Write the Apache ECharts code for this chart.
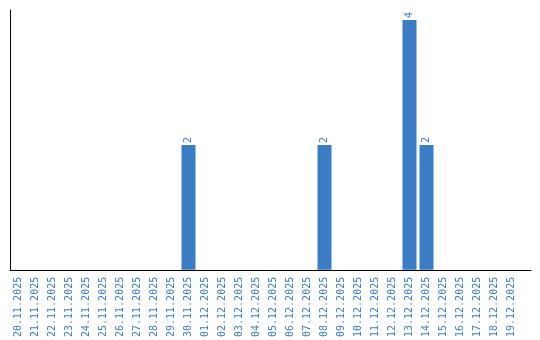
<!DOCTYPE html>
<html><head><meta charset="utf-8">
<script src="https://cdn.jsdelivr.net/npm/echarts@6/dist/echarts.min.js"></script>
<style>html,body{margin:0;padding:0;background:#fff}#c{width:540px;height:340px}</style>
</head><body><div id="c"></div>
<script>
const categories = ["20.11.2025","21.11.2025","22.11.2025","23.11.2025","24.11.2025","25.11.2025","26.11.2025","27.11.2025","28.11.2025","29.11.2025","30.11.2025","01.12.2025","02.12.2025","03.12.2025","04.12.2025","05.12.2025","06.12.2025","07.12.2025","08.12.2025","09.12.2025","10.12.2025","11.12.2025","12.12.2025","13.12.2025","14.12.2025","15.12.2025","16.12.2025","17.12.2025","18.12.2025","19.12.2025"];
const values = [0,0,0,0,0,0,0,0,0,0,2,0,0,0,0,0,0,0,2,0,0,0,0,4,2,0,0,0,0,0];
const blue = '#3a7dc5';
const font = 'DejaVu Sans Mono';
const chart = echarts.init(document.getElementById('c'));
chart.setOption({
  animation:false,
  grid:[
    {left:10,top:10,width:510,bottom:70},
    {left:10,top:10,width:521,bottom:70}
  ],
  xAxis:[
    {type:'category',gridIndex:0,data:categories,
     axisLine:{show:false},axisTick:{show:false},
     axisLabel:{rotate:90,interval:0,color:blue,fontFamily:font,fontSize:10,margin:7}},
    {type:'value',gridIndex:1,min:0,max:1,axisLine:{show:true,lineStyle:{color:'#000',width:1}},
     axisTick:{show:false},axisLabel:{show:false},splitLine:{show:false}}
  ],
  yAxis:[
    {type:'value',gridIndex:0,min:0,max:4.16,axisLine:{show:true,lineStyle:{color:'#000',width:1}},
     axisTick:{show:false},axisLabel:{show:false},splitLine:{show:false}},
    {type:'value',gridIndex:1,min:0,max:1,show:false}
  ],
  series:[{
    type:'bar',xAxisIndex:0,yAxisIndex:0,data:values.map(v=>v===0?null:v),barWidth:14,
    itemStyle:{color:blue},
    label:{show:true,position:'top',rotate:90,align:'left',verticalAlign:'middle',distance:2,
      color:blue,fontFamily:font,fontSize:10}
  }]
});
</script></body></html>
